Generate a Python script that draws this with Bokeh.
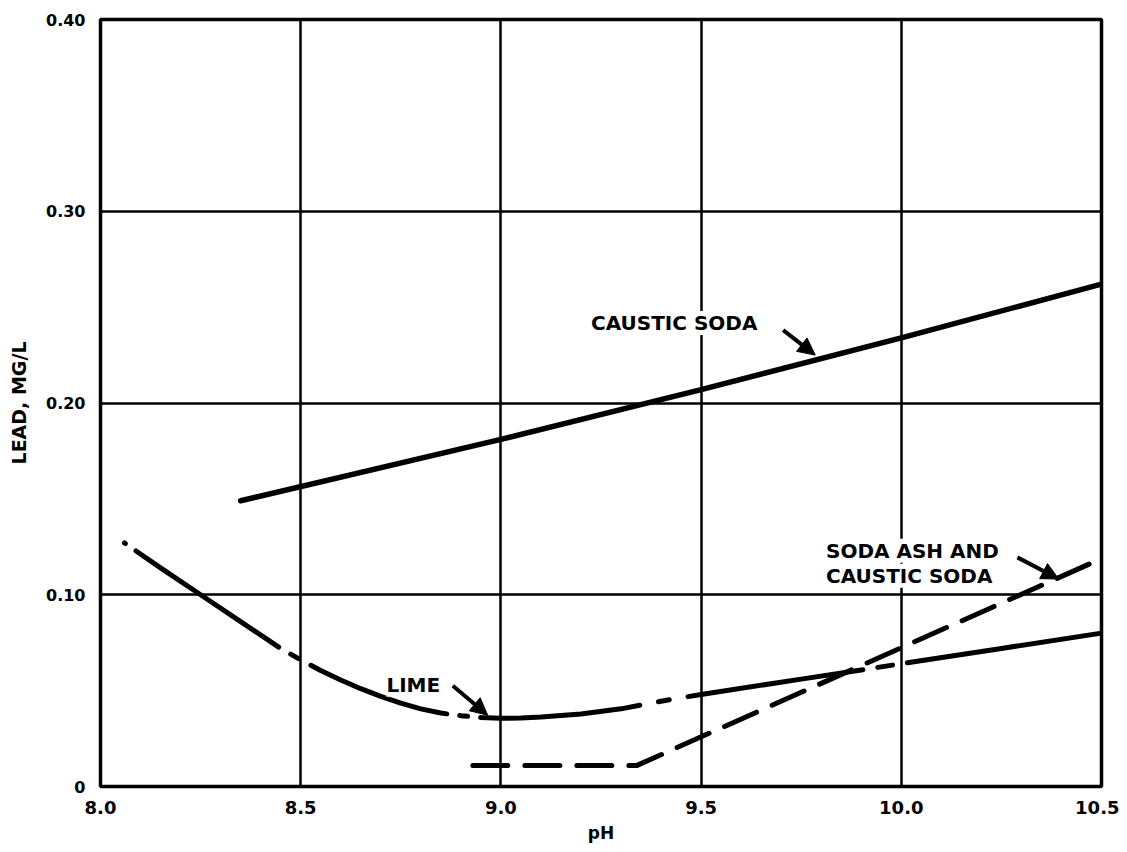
from bokeh.plotting import figure
from bokeh.models import Range1d, Label, Arrow, NormalHead, FixedTicker
from bokeh.embed import file_html
from bokeh.resources import INLINE

# ---- data ----
caustic_ph = [8.35, 9.0, 9.5, 10.0, 10.5]
caustic_lead = [0.149, 0.181, 0.207, 0.234, 0.262]

lime_ph = [8.06, 8.15, 8.25, 8.35, 8.45, 8.5, 8.55, 8.6, 8.65, 8.7, 8.75, 8.8,
           8.85, 8.9, 8.95, 9.0, 9.05, 9.1, 9.2, 9.3, 9.4, 9.5, 9.75, 10.0,
           10.25, 10.5]
lime_lead = [0.127, 0.114, 0.100, 0.086, 0.072, 0.066, 0.0605, 0.0555, 0.0510,
             0.0470, 0.0435, 0.0405, 0.0383, 0.0369, 0.0360, 0.0356, 0.0357,
             0.0362, 0.0378, 0.0405, 0.0445, 0.048, 0.056, 0.064, 0.072, 0.080]

soda_ph = [8.93, 9.34, 10.48]
soda_lead = [0.011, 0.011, 0.117]

x_ticks = [8.0, 8.5, 9.0, 9.5, 10.0, 10.5]
x_tick_labels = ["8.0", "8.5", "9.0", "9.5", "10.0", "10.5"]
y_ticks = [0.0, 0.1, 0.2, 0.3, 0.4]
y_tick_labels = ["0", "0.10", "0.20", "0.30", "0.40"]

# annotation texts and anchor positions (data units)
labels = [
    ("CAUSTIC SODA", 9.225, 0.2417),
    ("LIME", 8.714, 0.0531),
    ("SODA ASH AND", 9.812, 0.1229),
    ("CAUSTIC SODA", 9.812, 0.1099),
]
arrows = [
    (9.705, 0.2380, 9.785, 0.2250),
    (8.880, 0.0525, 8.967, 0.0372),
    (10.290, 0.1195, 10.393, 0.1082),
]

FONT = "DejaVu Sans"

p = figure(width=1119, height=848, output_backend="svg", toolbar_location=None,
           x_range=Range1d(8.0, 10.5), y_range=Range1d(0.0, 0.40),
           min_border_left=100, min_border_right=18, min_border_top=19,
           min_border_bottom=62, x_axis_label="pH", y_axis_label="LEAD, MG/L")

p.background_fill_color = "white"
p.border_fill_color = "white"
p.outline_line_color = "black"
p.outline_line_width = 3.5

for ax in (p.xaxis[0], p.yaxis[0]):
    ax.axis_line_color = None
    ax.major_tick_line_color = None
    ax.minor_tick_line_color = None
    ax.major_label_text_font = FONT
    ax.major_label_text_font_style = "bold"
    ax.major_label_text_color = "black"
    ax.axis_label_text_font = FONT
    ax.axis_label_text_font_style = "bold"
    ax.axis_label_text_color = "black"

p.xaxis.major_label_text_font_size = "18px"
p.yaxis.major_label_text_font_size = "16px"
p.xaxis.axis_label_text_font_size = "17px"
p.yaxis.axis_label_text_font_size = "19px"

p.xaxis.ticker = FixedTicker(ticks=x_ticks)
p.yaxis.ticker = FixedTicker(ticks=y_ticks)
p.xaxis.major_label_overrides = {t: l for t, l in zip(x_ticks, x_tick_labels)}
p.yaxis.major_label_overrides = {t: l for t, l in zip(y_ticks, y_tick_labels)}
p.xaxis.major_label_standoff = 8
p.yaxis.major_label_standoff = 9
p.xaxis.axis_label_standoff = 6
p.yaxis.axis_label_standoff = 13

p.xgrid.grid_line_color = "black"
p.ygrid.grid_line_color = "black"
p.xgrid.grid_line_width = 2.5
p.ygrid.grid_line_width = 2.5
p.grid.grid_line_alpha = 1.0

# curves
p.line(caustic_ph, caustic_lead, line_color="black", line_width=5.5, line_cap="round")
p.line(lime_ph, lime_lead, line_color="black", line_width=5, line_cap="round",
       line_join="round",
       line_dash="1 13 172 14 9 14 145 13 8 13 160 19 11 19 177 15 15 15 400 10")
p.line(soda_ph, soda_lead, line_color="black", line_width=5, line_cap="round",
       line_join="round", line_dash="35 17")

for txt, x, y in labels:
    p.add_layout(Label(x=x, y=y, text=txt, text_font=FONT, text_font_style="bold",
                       text_font_size="20px", text_color="black",
                       text_baseline="middle", text_align="left",
                       background_fill_color="white", background_fill_alpha=1.0))

for x0, y0, x1, y1 in arrows:
    p.add_layout(Arrow(x_start=x0, y_start=y0, x_end=x1, y_end=y1,
                       line_width=4, line_color="black",
                       end=NormalHead(size=17, fill_color="black", line_color="black")))

open("out.html", "w").write(file_html(p, INLINE))
